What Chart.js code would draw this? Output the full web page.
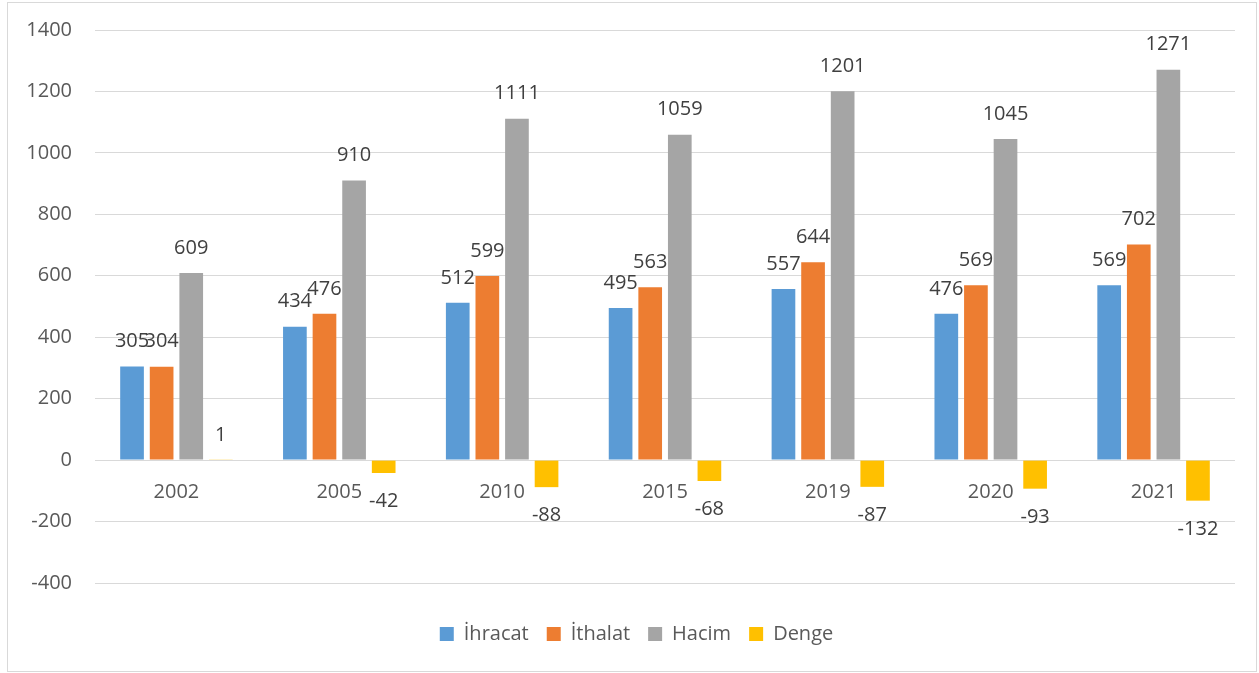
<!DOCTYPE html>
<html>
<head>
<meta charset="utf-8">
<script src="https://cdn.jsdelivr.net/npm/chart.js@4.4.1/dist/chart.umd.min.js"></script>
<style>
  html, body { margin: 0; padding: 0; background: #ffffff; }
  #wrap { position: relative; width: 1259px; height: 673px; }
</style>
</head>
<body>
<div id="wrap"><canvas id="c" width="1259" height="673"></canvas></div>
<script>
const categories = ['2002', '2005', '2010', '2015', '2019', '2020', '2021'];
const ihracat = [305, 434, 512, 495, 557, 476, 569];
const ithalat = [304, 476, 599, 563, 644, 569, 702];
const hacim = [609, 910, 1111, 1059, 1201, 1045, 1271];
const denge = [1, -42, -88, -68, -87, -93, -132];
const seriesNames = ['İhracat', 'İthalat', 'Hacim', 'Denge'];
const seriesColors = ['#5B9BD5', '#ED7D31', '#A5A5A5', '#FFC000'];
const yMin = -400, yMax = 1400, yStep = 200;

const FONT = '"Open Sans", "Liberation Sans", sans-serif';

const borderPlugin = {
  id: 'frame',
  beforeDraw(chart) {
    const ctx = chart.ctx;
    ctx.save();
    ctx.fillStyle = '#ffffff';
    ctx.fillRect(0, 0, chart.width, chart.height);
    ctx.strokeStyle = '#d9d9d9';
    ctx.lineWidth = 1;
    ctx.strokeRect(7.5, 2.5, 1249, 669);
    ctx.restore();
  },
  afterLayout(chart) {
    if (chart.legend) { chart.legend.left += 38; }
  }
};

const labelPlugin = {
  id: 'valueLabels',
  afterDatasetsDraw(chart) {
    const ctx = chart.ctx;
    ctx.save();
    ctx.font = '20px ' + FONT;
    ctx.textAlign = 'center';
    ctx.textBaseline = 'middle';
    const xs = chart.scales.x, ys = chart.scales.y;
    const zeroY = ys.getPixelForValue(0);
    ctx.fillStyle = '#595959';
    categories.forEach((c, i) => {
      ctx.fillText(c, xs.getPixelForValue(i), zeroY + 32);
    });
    ctx.fillStyle = '#404040';
    chart.data.datasets.forEach((ds, di) => {
      const meta = chart.getDatasetMeta(di);
      meta.data.forEach((el, i) => {
        const v = ds.data[i];
        const y = v >= 0 ? el.y - 25 : el.y + 28.5;
        ctx.fillText(String(v), el.x, y);
      });
    });
    ctx.restore();
  }
};

const allSeries = [ihracat, ithalat, hacim, denge];

new Chart(document.getElementById('c'), {
  type: 'bar',
  data: {
    labels: categories,
    datasets: allSeries.map((d, i) => ({
      label: seriesNames[i],
      data: d,
      backgroundColor: seriesColors[i],
      borderWidth: 0,
      categoryPercentage: 0.727,
      barPercentage: 0.8
    }))
  },
  options: {
    responsive: false,
    animation: false,
    devicePixelRatio: 1,
    layout: { padding: { left: 0, right: 24, top: 30, bottom: 19 } },
    plugins: {
      legend: {
        display: true,
        position: 'bottom',
        labels: {
          boxWidth: 14,
          boxHeight: 14,
          padding: 18,
          color: '#595959',
          font: { family: FONT, size: 20 }
        }
      },
      tooltip: { enabled: false }
    },
    scales: {
      x: {
        display: true,
        grid: { display: false },
        border: { display: false },
        ticks: { display: false },
        afterFit(scale) { scale.height = 23; scale.paddingLeft = 0; scale.paddingRight = 0; }
      },
      y: {
        min: yMin,
        max: yMax,
        grid: { color: '#d9d9d9', lineWidth: 1, drawTicks: false },
        border: { display: false },
        ticks: {
          stepSize: yStep,
          padding: 23,
          color: '#595959',
          font: { family: FONT, size: 20 },
          callback: (v) => String(v)
        },
        afterFit(scale) { scale.width = 95; scale.paddingTop = 0; scale.paddingBottom = 0; }
      }
    }
  },
  plugins: [borderPlugin, labelPlugin]
});
</script>
</body>
</html>
